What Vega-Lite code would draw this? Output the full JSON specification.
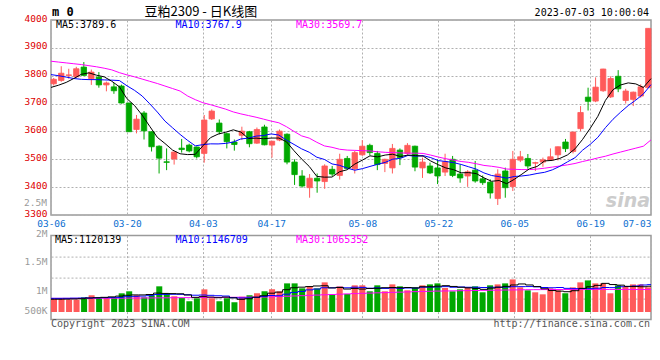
{
  "$schema": "https://vega.github.io/schema/vega-lite/v6.json",
  "autosize": {"type": "pad"},
  "padding": {"left": 23, "top": 4, "right": 4, "bottom": 4},
  "background": "#ffffff",
  "config": {
    "view": {"stroke": "#9a9a9a", "strokeWidth": 1.5},
    "axis": {"labelFont": "DejaVu Sans Mono", "labelFontSize": 9.5, "ticks": false, "domain": false, "gridColor": "#b0b0b0", "gridDash": [2, 2], "gridWidth": 1, "gridOpacity": 1, "labelOverlap": false},
    "text": {"font": "DejaVu Sans Mono", "fontSize": 10}
  },
  "datasets": {
    "k": [
      {"d":"03-06","o":3771,"h":3792,"l":3765,"c":3787,"m5":3758,"m10":3804,"m30":3852,"v":911000,"v5":900000,"v10":915000,"v30":915000},
      {"d":"03-07","o":3783,"h":3834,"l":3778,"c":3809,"m5":3766,"m10":3800,"m30":3849,"v":911000,"v5":900000,"v10":915000,"v30":915000},
      {"d":"03-08","o":3801,"h":3825,"l":3789,"c":3803,"m5":3776,"m10":3795,"m30":3846,"v":895000,"v5":902000,"v10":916000,"v30":915000},
      {"d":"03-09","o":3796,"h":3832,"l":3793,"c":3825,"m5":3790,"m10":3790,"m30":3843,"v":895000,"v5":905000,"v10":918000,"v30":915000},
      {"d":"03-10","o":3831,"h":3849,"l":3799,"c":3801,"m5":3805,"m10":3787,"m30":3840,"v":933000,"v5":909000,"v10":920000,"v30":915000},
      {"d":"03-13","o":3789,"h":3822,"l":3767,"c":3813,"m5":3810.2,"m10":3786,"m30":3836,"v":967000,"v5":920000,"v10":922000,"v30":916000},
      {"d":"03-14","o":3795,"h":3813,"l":3757,"c":3767,"m5":3801.8,"m10":3786,"m30":3832,"v":933000,"v5":925000,"v10":924000,"v30":916000},
      {"d":"03-15","o":3767,"h":3779,"l":3744,"c":3774,"m5":3796,"m10":3785,"m30":3827,"v":933000,"v5":932000,"v10":926000,"v30":917000},
      {"d":"03-16","o":3760,"h":3774,"l":3735,"c":3746,"m5":3780.2,"m10":3784,"m30":3821,"v":933000,"v5":940000,"v10":928000,"v30":917000},
      {"d":"03-17","o":3763,"h":3768,"l":3700,"c":3702,"m5":3760.4,"m10":3782.7,"m30":3811,"v":1000000,"v5":953000,"v10":931000,"v30":918000},
      {"d":"03-20","o":3702,"h":3703,"l":3598,"c":3599,"m5":3717.6,"m10":3763.9,"m30":3803,"v":1034000,"v5":967000,"v10":943000,"v30":919000},
      {"d":"03-21","o":3607,"h":3659,"l":3593,"c":3644,"m5":3693,"m10":3747.4,"m30":3796,"v":967000,"v5":973000,"v10":949000,"v30":920000},
      {"d":"03-22","o":3666,"h":3673,"l":3571,"c":3602,"m5":3658.6,"m10":3727.3,"m30":3788,"v":933000,"v5":973000,"v10":953000,"v30":921000},
      {"d":"03-23","o":3599,"h":3600,"l":3528,"c":3545,"m5":3618.4,"m10":3699.3,"m30":3780,"v":967000,"v5":980000,"v10":960000,"v30":922000},
      {"d":"03-24","o":3547,"h":3550,"l":3449,"c":3504,"m5":3578.8,"m10":3669.6,"m30":3772,"v":1118000,"v5":1004000,"v10":979000,"v30":923000},
      {"d":"03-27","o":3491,"h":3539,"l":3461,"c":3489,"m5":3556.8,"m10":3637.2,"m30":3763,"v":1005000,"v5":998000,"v10":982000,"v30":924000},
      {"d":"03-28","o":3501,"h":3528,"l":3481,"c":3526,"m5":3533.2,"m10":3613.1,"m30":3754,"v":950000,"v5":995000,"v10":984000,"v30":925000},
      {"d":"03-29","o":3540,"h":3573,"l":3524,"c":3535,"m5":3519.8,"m10":3589.2,"m30":3745,"v":922000,"v5":992000,"v10":983000,"v30":926000},
      {"d":"03-30","o":3551,"h":3556,"l":3525,"c":3530,"m5":3516.8,"m10":3567.6,"m30":3727,"v":866000,"v5":972000,"v10":976000,"v30":927000},
      {"d":"03-31","o":3544,"h":3546,"l":3503,"c":3509,"m5":3517.8,"m10":3548.3,"m30":3714,"v":916000,"v5":932000,"v10":968000,"v30":928000},
      {"d":"04-03","o":3521,"h":3659,"l":3488,"c":3641,"m5":3548.2,"m10":3552.5,"m30":3703,"v":1067000,"v5":944000,"v10":971000,"v30":929000},
      {"d":"04-04","o":3645,"h":3679,"l":3641,"c":3673,"m5":3577.6,"m10":3555.4,"m30":3696,"v":916000,"v5":937000,"v10":966000,"v30":930000},
      {"d":"04-06","o":3630,"h":3643,"l":3590,"c":3599,"m5":3590.4,"m10":3555.1,"m30":3688,"v":866000,"v5":926000,"v10":959000,"v30":931000},
      {"d":"04-07","o":3592,"h":3595,"l":3539,"c":3563,"m5":3597,"m10":3556.9,"m30":3680,"v":916000,"v5":936000,"v10":954000,"v30":932000},
      {"d":"04-10","o":3562,"h":3571,"l":3531,"c":3553,"m5":3605.8,"m10":3561.8,"m30":3670,"v":849000,"v5":923000,"v10":927000,"v30":933000},
      {"d":"04-11","o":3586,"h":3617,"l":3569,"c":3601,"m5":3597.8,"m10":3573,"m30":3663,"v":944000,"v5":898000,"v10":921000,"v30":934000},
      {"d":"04-12","o":3599,"h":3602,"l":3543,"c":3556,"m5":3574.4,"m10":3576,"m30":3657,"v":967000,"v5":908000,"v10":923000,"v30":935000},
      {"d":"04-13","o":3558,"h":3614,"l":3555,"c":3607,"m5":3576,"m10":3583.2,"m30":3651,"v":1000000,"v5":935000,"v10":931000,"v30":936000},
      {"d":"04-14","o":3616,"h":3624,"l":3550,"c":3552,"m5":3573.8,"m10":3585.4,"m30":3644,"v":1034000,"v5":959000,"v10":948000,"v30":938000},
      {"d":"04-17","o":3551,"h":3566,"l":3506,"c":3565,"m5":3576.2,"m10":3591,"m30":3637,"v":1067000,"v5":1002000,"v10":963000,"v30":940000},
      {"d":"04-18","o":3569,"h":3607,"l":3565,"c":3601,"m5":3576.2,"m10":3587,"m30":3631,"v":1034000,"v5":1020000,"v10":959000,"v30":945000},
      {"d":"04-19","o":3590,"h":3593,"l":3482,"c":3490,"m5":3563,"m10":3568.7,"m30":3617,"v":1168000,"v5":1061000,"v10":985000,"v30":950000},
      {"d":"04-20","o":3490,"h":3500,"l":3408,"c":3445,"m5":3530.6,"m10":3553.3,"m30":3600,"v":1168000,"v5":1094000,"v10":1015000,"v30":955000},
      {"d":"04-21","o":3440,"h":3461,"l":3398,"c":3404,"m5":3501,"m10":3537.4,"m30":3584,"v":1084000,"v5":1104000,"v10":1032000,"v30":960000},
      {"d":"04-24","o":3398,"h":3447,"l":3362,"c":3432,"m5":3474.4,"m10":3525.3,"m30":3576,"v":1118000,"v5":1114000,"v10":1058000,"v30":965000},
      {"d":"04-25","o":3432,"h":3449,"l":3380,"c":3422,"m5":3438.6,"m10":3507.4,"m30":3561,"v":1084000,"v5":1124000,"v10":1072000,"v30":970000},
      {"d":"04-26","o":3420,"h":3482,"l":3394,"c":3476,"m5":3435.8,"m10":3499.4,"m30":3548,"v":1185000,"v5":1128000,"v10":1094000,"v30":975000},
      {"d":"04-27","o":3464,"h":3476,"l":3440,"c":3447,"m5":3436.2,"m10":3483.4,"m30":3543,"v":983000,"v5":1091000,"v10":1093000,"v30":980000},
      {"d":"04-28","o":3442,"h":3520,"l":3427,"c":3500,"m5":3455.4,"m10":3478.2,"m30":3536,"v":1118000,"v5":1098000,"v10":1101000,"v30":985000},
      {"d":"05-04","o":3503,"h":3512,"l":3464,"c":3467,"m5":3462.4,"m10":3468.4,"m30":3533,"v":988000,"v5":1072000,"v10":1093000,"v30":990000},
      {"d":"05-05","o":3466,"h":3530,"l":3449,"c":3524,"m5":3482.8,"m10":3460.7,"m30":3532,"v":1135000,"v5":1082000,"v10":1103000,"v30":995000},
      {"d":"05-08","o":3516,"h":3569,"l":3512,"c":3547,"m5":3497,"m10":3466.4,"m30":3531,"v":1135000,"v5":1072000,"v10":1100000,"v30":1000000},
      {"d":"05-09","o":3550,"h":3556,"l":3514,"c":3524,"m5":3512.4,"m10":3474.3,"m30":3530,"v":1034000,"v5":1082000,"v10":1086000,"v30":1004000},
      {"d":"05-10","o":3521,"h":3530,"l":3461,"c":3481,"m5":3508.6,"m10":3482,"m30":3527,"v":1135000,"v5":1085000,"v10":1092000,"v30":1008000},
      {"d":"05-11","o":3485,"h":3502,"l":3454,"c":3500,"m5":3515.2,"m10":3488.8,"m30":3525,"v":1034000,"v5":1095000,"v10":1083000,"v30":1012000},
      {"d":"05-12","o":3469,"h":3555,"l":3449,"c":3539,"m5":3518.2,"m10":3500.5,"m30":3524,"v":1151000,"v5":1098000,"v10":1090000,"v30":1016000},
      {"d":"05-15","o":3533,"h":3539,"l":3479,"c":3506,"m5":3510,"m10":3503.5,"m30":3523,"v":1118000,"v5":1094000,"v10":1083000,"v30":1020000},
      {"d":"05-16","o":3521,"h":3558,"l":3516,"c":3550,"m5":3515.2,"m10":3513.8,"m30":3522,"v":1051000,"v5":1098000,"v10":1090000,"v30":1024000},
      {"d":"05-17","o":3547,"h":3549,"l":3457,"c":3472,"m5":3513.4,"m10":3511,"m30":3522,"v":1101000,"v5":1091000,"v10":1088000,"v30":1028000},
      {"d":"05-18","o":3469,"h":3506,"l":3433,"c":3490,"m5":3511.4,"m10":3513.3,"m30":3521,"v":1135000,"v5":1111000,"v10":1103000,"v30":1032000},
      {"d":"05-19","o":3476,"h":3488,"l":3447,"c":3451,"m5":3493.8,"m10":3506,"m30":3515,"v":1151000,"v5":1111000,"v10":1105000,"v30":1035000},
      {"d":"05-22","o":3469,"h":3500,"l":3411,"c":3440,"m5":3480.6,"m10":3495.3,"m30":3508,"v":1168000,"v5":1121000,"v10":1108000,"v30":1038000},
      {"d":"05-23","o":3454,"h":3520,"l":3440,"c":3491,"m5":3468.8,"m10":3492,"m30":3502,"v":1090000,"v5":1129000,"v10":1113000,"v30":1040000},
      {"d":"05-24","o":3500,"h":3512,"l":3436,"c":3442,"m5":3462.8,"m10":3488.1,"m30":3497,"v":1034000,"v5":1116000,"v10":1103000,"v30":1042000},
      {"d":"05-25","o":3447,"h":3481,"l":3416,"c":3433,"m5":3451.4,"m10":3481.4,"m30":3492,"v":1067000,"v5":1102000,"v10":1107000,"v30":1044000},
      {"d":"05-26","o":3440,"h":3461,"l":3401,"c":3455,"m5":3452.2,"m10":3473,"m30":3489,"v":1101000,"v5":1092000,"v10":1102000,"v30":1046000},
      {"d":"05-29","o":3461,"h":3494,"l":3416,"c":3422,"m5":3448.6,"m10":3464.6,"m30":3484,"v":1118000,"v5":1082000,"v10":1102000,"v30":1048000},
      {"d":"05-30","o":3430,"h":3442,"l":3408,"c":3416,"m5":3433.6,"m10":3451.2,"m30":3478,"v":1017000,"v5":1067000,"v10":1098000,"v30":1050000},
      {"d":"05-31","o":3418,"h":3428,"l":3359,"c":3379,"m5":3421,"m10":3441.9,"m30":3475,"v":1135000,"v5":1088000,"v10":1102000,"v30":1052000},
      {"d":"06-01","o":3359,"h":3464,"l":3336,"c":3447,"m5":3423.8,"m10":3437.6,"m30":3471,"v":1151000,"v5":1104000,"v10":1103000,"v30":1054000},
      {"d":"06-02","o":3458,"h":3470,"l":3362,"c":3398,"m5":3412.4,"m10":3432.3,"m30":3465,"v":1168000,"v5":1118000,"v10":1105000,"v30":1056000},
      {"d":"06-05","o":3402,"h":3530,"l":3386,"c":3500,"m5":3428,"m10":3438.3,"m30":3464,"v":1235000,"v5":1141000,"v10":1112000,"v30":1058000},
      {"d":"06-06","o":3497,"h":3530,"l":3490,"c":3509,"m5":3446.6,"m10":3440.1,"m30":3463,"v":1101000,"v5":1158000,"v10":1113000,"v30":1060000},
      {"d":"06-07","o":3503,"h":3519,"l":3466,"c":3476,"m5":3466,"m10":3443.5,"m30":3463,"v":1051000,"v5":1141000,"v10":1114000,"v30":1061000},
      {"d":"06-08","o":3486,"h":3491,"l":3458,"c":3488,"m5":3474.2,"m10":3449,"m30":3465,"v":1017000,"v5":1114000,"v10":1109000,"v30":1062000},
      {"d":"06-09","o":3490,"h":3506,"l":3473,"c":3498,"m5":3494.2,"m10":3453.3,"m30":3468,"v":983000,"v5":1077000,"v10":1098000,"v30":1063000},
      {"d":"06-12","o":3497,"h":3539,"l":3494,"c":3509,"m5":3496,"m10":3462,"m30":3472,"v":1084000,"v5":1047000,"v10":1094000,"v30":1064000},
      {"d":"06-13","o":3516,"h":3546,"l":3496,"c":3545,"m5":3503.2,"m10":3474.9,"m30":3476,"v":1051000,"v5":1037000,"v10":1098000,"v30":1065000},
      {"d":"06-14","o":3562,"h":3573,"l":3526,"c":3538,"m5":3515.6,"m10":3490.8,"m30":3480,"v":1000000,"v5":1027000,"v10":1084000,"v30":1065000},
      {"d":"06-15","o":3528,"h":3598,"l":3521,"c":3598,"m5":3537.6,"m10":3505.9,"m30":3485,"v":1101000,"v5":1044000,"v10":1079000,"v30":1066000},
      {"d":"06-16","o":3610,"h":3691,"l":3601,"c":3668,"m5":3571.6,"m10":3532.9,"m30":3492,"v":1185000,"v5":1084000,"v10":1081000,"v30":1066000},
      {"d":"06-19","o":3723,"h":3757,"l":3675,"c":3708,"m5":3611.4,"m10":3553.7,"m30":3498,"v":1218000,"v5":1111000,"v10":1079000,"v30":1066000},
      {"d":"06-20","o":3709,"h":3794,"l":3705,"c":3759,"m5":3654.2,"m10":3578.7,"m30":3505,"v":1168000,"v5":1134000,"v10":1086000,"v30":1066000},
      {"d":"06-21","o":3746,"h":3825,"l":3742,"c":3824,"m5":3711.4,"m10":3613.5,"m30":3511,"v":1168000,"v5":1168000,"v10":1098000,"v30":1066000},
      {"d":"06-26","o":3724,"h":3798,"l":3720,"c":3790,"m5":3749.8,"m10":3643.7,"m30":3519,"v":1000000,"v5":1148000,"v10":1096000,"v30":1066000},
      {"d":"06-27","o":3798,"h":3820,"l":3741,"c":3753,"m5":3766.8,"m10":3669.2,"m30":3526,"v":1135000,"v5":1138000,"v10":1111000,"v30":1066000},
      {"d":"06-28","o":3711,"h":3753,"l":3700,"c":3745,"m5":3774.2,"m10":3692.8,"m30":3533,"v":1118000,"v5":1118000,"v10":1114000,"v30":1066000},
      {"d":"06-29","o":3715,"h":3743,"l":3691,"c":3741,"m5":3770.6,"m10":3712.4,"m30":3540,"v":1151000,"v5":1114000,"v10":1124000,"v30":1065000},
      {"d":"06-30","o":3727,"h":3769,"l":3721,"c":3760,"m5":3757.8,"m10":3734.6,"m30":3547,"v":1151000,"v5":1111000,"v10":1140000,"v30":1065000},
      {"d":"07-03","o":3757,"h":3970,"l":3757,"c":3970,"m5":3789.6,"m10":3767.9,"m30":3569.7,"v":1101000,"v5":1120139,"v10":1146709,"v30":1065352}
    ]
  },
  "bounds": "flush",
  "spacing": 20.6,
  "vconcat": [
    {
      "width": 600,
      "height": 195,
      "resolve": {"scale": {"x": "independent"}, "axis": {"y": "independent"}},
      "layer": [
        {
          "data": {"name": "k"},
          "layer": [
            {
              "mark": {"type": "rule", "strokeWidth": 1},
              "encoding": {
                "x": {"field": "d", "type": "ordinal", "scale": {"type": "band", "paddingInner": 0.28, "paddingOuter": 0}, "axis": null},
                "y": {"field": "l", "type": "quantitative", "scale": {"domain": [3300, 4000], "nice": false, "zero": false},
                  "axis": {"orient": "left", "values": [3300, 3400, 3500, 3600, 3700, 3800, 3900, 4000], "tickCount": 20, "format": "d", "labelOverlap": false, "labelColor": "#dd0000", "labelPadding": 4, "labelOffset": -2, "grid": true, "title": null}},
                "y2": {"field": "h"},
                "color": {"condition": {"test": "datum.c >= datum.o", "value": "#ff5a5a"}, "value": "#00a800"}
              }
            },
            {
              "mark": {"type": "bar", "strokeWidth": 0.8},
              "encoding": {
                "x": {"field": "d", "type": "ordinal", "axis": null},
                "y": {"field": "o", "type": "quantitative", "title": null},
                "y2": {"field": "c"},
                "color": {"condition": {"test": "datum.c >= datum.o", "value": "#ff5a5a"}, "value": "#00a800"},
                "stroke": {"condition": {"test": "datum.c >= datum.o", "value": "#ff5a5a"}, "value": "#00a800"}
              }
            }
          ]
        },
        {
          "layer": [
            {
              "data": {"name": "k"},
              "mark": {"type": "line", "strokeWidth": 1, "color": "#ff00ff"},
              "encoding": {
                "x": {"field": "d", "type": "ordinal", "scale": {"type": "point", "padding": 0},
                  "axis": {"grid": true, "orient": "bottom", "labelColor": "#0d6fd1", "labelPadding": 3, "title": null, "labelAngle": 0,
                    "values": ["03-06", "03-20", "04-03", "04-17", "05-08", "05-22", "06-05", "06-19", "07-03"],
                    "labelAlign": {"condition": {"test": "datum.value == '07-03'", "value": "right"}, "value": "center"}}},
                "y": {"field": "m30", "type": "quantitative", "title": null, "axis": null}
              }
            },
            {
              "data": {"name": "k"},
              "mark": {"type": "line", "strokeWidth": 1, "color": "#0000ff"},
              "encoding": {
                "x": {"field": "d", "type": "ordinal"},
                "y": {"field": "m10", "type": "quantitative", "title": null, "axis": null}
              }
            },
            {
              "data": {"name": "k"},
              "mark": {"type": "line", "strokeWidth": 1, "color": "#000000"},
              "encoding": {
                "x": {"field": "d", "type": "ordinal"},
                "y": {"field": "m5", "type": "quantitative", "title": null, "axis": null}
              }
            },
            {
              "data": {"values": [{}]},
              "mark": {"type": "text", "align": "left", "baseline": "alphabetic", "dx": 5, "dy": 8, "color": "#000000", "text": "MA5:3789.6"},
              "encoding": {"x": {"datum": "03-06", "type": "ordinal"}, "y": {"datum": 4000, "type": "quantitative", "axis": null}}
            },
            {
              "data": {"values": [{}]},
              "mark": {"type": "text", "align": "left", "baseline": "alphabetic", "dx": 3, "dy": 8, "color": "#0000ff", "text": "MA10:3767.9"},
              "encoding": {"x": {"datum": "03-28", "type": "ordinal"}, "y": {"datum": 4000, "type": "quantitative", "axis": null}}
            },
            {
              "data": {"values": [{}]},
              "mark": {"type": "text", "align": "left", "baseline": "alphabetic", "dx": 2, "dy": 8, "color": "#ff00ff", "text": "MA30:3569.7"},
              "encoding": {"x": {"datum": "04-20", "type": "ordinal"}, "y": {"datum": 4000, "type": "quantitative", "axis": null}}
            },
            {
              "data": {"values": [{}]},
              "mark": {"type": "text", "align": "left", "baseline": "alphabetic", "dx": 1, "dy": -3.7, "color": "#000000", "fontWeight": "bold", "fontSize": 12, "text": "m 0"},
              "encoding": {"x": {"datum": "03-06", "type": "ordinal"}, "y": {"datum": 4000, "type": "quantitative", "axis": null}}
            },
            {
              "data": {"values": [{}]},
              "mark": {"type": "text", "align": "center", "baseline": "alphabetic", "dx": -2, "dy": -4.5, "color": "#000000", "font": "Noto Sans CJK SC", "fontSize": 13, "text": "豆粕2309 - 日K线图"},
              "encoding": {"x": {"datum": "04-03", "type": "ordinal"}, "y": {"datum": 4000, "type": "quantitative", "axis": null}}
            },
            {
              "data": {"values": [{}]},
              "mark": {"type": "text", "align": "right", "baseline": "alphabetic", "dx": -2, "dy": -3.7, "color": "#000000", "text": "2023-07-03 10:00:04"},
              "encoding": {"x": {"datum": "07-03", "type": "ordinal"}, "y": {"datum": 4000, "type": "quantitative", "axis": null}}
            },
            {
              "data": {"values": [{}]},
              "mark": {"type": "text", "align": "right", "baseline": "alphabetic", "dx": -1, "dy": -8, "color": "#cccccc", "font": "DejaVu Sans", "fontStyle": "italic", "fontWeight": "bold", "fontSize": 19, "text": "sina"},
              "encoding": {"x": {"datum": "07-03", "type": "ordinal"}, "y": {"datum": 3300, "type": "quantitative", "axis": null}}
            }
          ]
        }
      ]
    },
    {
      "width": 600,
      "height": 84,
      "resolve": {"scale": {"x": "independent"}, "axis": {"y": "independent"}},
      "layer": [
        {
          "data": {"name": "k"},
          "mark": {"type": "bar"},
          "encoding": {
            "x": {"field": "d", "type": "ordinal", "scale": {"type": "band", "paddingInner": 0.2, "paddingOuter": 0}, "axis": null},
            "y": {"field": "v", "type": "quantitative", "scale": {"domain": [556000, 1975000], "nice": false, "zero": false},
              "axis": {"orient": "left", "values": [1975000, 1500000, 1000000, 674000], "tickCount": 20, "labelOverlap": false, "labelExpr": "datum.value >= 1900000 ? '2M' : datum.value >= 1000000 ? (datum.value / 1000000) + 'M' : '500K'", "labelColor": "#9a9a9a", "labelPadding": 4, "labelOffset": -2.5, "grid": false, "title": null}},
            "y2": {"datum": 684000},
            "color": {"condition": {"test": "datum.c >= datum.o", "value": "#ff5a5a"}, "value": "#00a800"}
          }
        },
        {
          "layer": [
            {
              "data": {"name": "k"},
              "mark": {"type": "line", "strokeWidth": 1, "color": "#ff00ff", "interpolate": "step"},
              "encoding": {
                "x": {"field": "d", "type": "ordinal", "scale": {"type": "point", "padding": 0},
                  "axis": {"grid": true, "labels": false, "orient": "bottom", "title": null,
                    "values": ["03-06", "03-20", "04-03", "04-17", "05-08", "05-22", "06-05", "06-19", "07-03"]}},
                "y": {"field": "v30", "type": "quantitative", "title": null,
                  "axis": {"orient": "left", "values": [910750, 1265500, 1620250], "tickCount": 20, "grid": true, "labels": false, "title": null}}
              }
            },
            {
              "data": {"name": "k"},
              "mark": {"type": "line", "strokeWidth": 1, "color": "#0000ff", "interpolate": "step"},
              "encoding": {
                "x": {"field": "d", "type": "ordinal"},
                "y": {"field": "v10", "type": "quantitative", "title": null}
              }
            },
            {
              "data": {"name": "k"},
              "mark": {"type": "line", "strokeWidth": 1, "color": "#000000", "interpolate": "step"},
              "encoding": {
                "x": {"field": "d", "type": "ordinal"},
                "y": {"field": "v5", "type": "quantitative", "title": null}
              }
            },
            {
              "data": {"values": [{}]},
              "mark": {"type": "text", "align": "right", "baseline": "middle", "dx": -4, "dy": -2, "color": "#9a9a9a", "fontSize": 9.5, "text": "2.5M"},
              "encoding": {"x": {"datum": "03-06", "type": "ordinal"}, "y": {"datum": 2500000, "type": "quantitative"}}
            },
            {
              "data": {"values": [{}]},
              "mark": {"type": "text", "align": "left", "baseline": "alphabetic", "dx": 4, "dy": 7.2, "color": "#000000", "text": "MA5:1120139"},
              "encoding": {"x": {"datum": "03-06", "type": "ordinal"}, "y": {"datum": 1975000, "type": "quantitative"}}
            },
            {
              "data": {"values": [{}]},
              "mark": {"type": "text", "align": "left", "baseline": "alphabetic", "dx": 3, "dy": 7.2, "color": "#0000ff", "text": "MA10:1146709"},
              "encoding": {"x": {"datum": "03-28", "type": "ordinal"}, "y": {"datum": 1975000, "type": "quantitative"}}
            },
            {
              "data": {"values": [{}]},
              "mark": {"type": "text", "align": "left", "baseline": "alphabetic", "dx": 2, "dy": 7.2, "color": "#ff00ff", "text": "MA30:1065352"},
              "encoding": {"x": {"datum": "04-20", "type": "ordinal"}, "y": {"datum": 1975000, "type": "quantitative"}}
            },
            {
              "data": {"values": [{}]},
              "mark": {"type": "text", "align": "left", "baseline": "alphabetic", "dx": 0, "dy": 7.8, "color": "#555555", "text": "Copyright 2023 SINA.COM"},
              "encoding": {"x": {"datum": "03-06", "type": "ordinal"}, "y": {"datum": 556000, "type": "quantitative"}}
            },
            {
              "data": {"values": [{}]},
              "mark": {"type": "text", "align": "right", "baseline": "alphabetic", "dx": -1, "dy": 7.8, "color": "#555555", "text": "http://finance.sina.com.cn"},
              "encoding": {"x": {"datum": "07-03", "type": "ordinal"}, "y": {"datum": 556000, "type": "quantitative"}}
            }
          ]
        }
      ]
    }
  ]
}
